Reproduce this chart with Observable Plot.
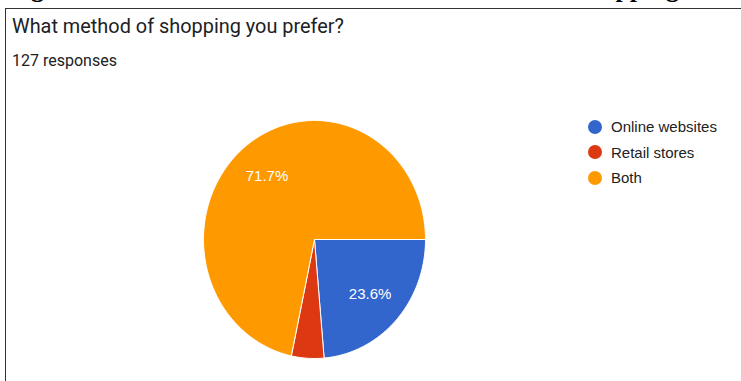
<!DOCTYPE html>
<html><head><meta charset="utf-8">
<script src="https://cdn.jsdelivr.net/npm/d3@7"></script>
<script src="https://cdn.jsdelivr.net/npm/@observablehq/plot@0.6"></script>
<style>
html,body{margin:0;padding:0;background:#fff;}
#page{position:relative;width:741px;height:381px;overflow:hidden;background:#fff;}
#caption{position:absolute;left:8px;top:-24px;font:bold 26px "Liberation Serif","Times New Roman",serif;line-height:26px;white-space:nowrap;color:#000;}
#box{position:absolute;left:5px;top:8px;width:800px;height:420px;border-left:1.5px solid #333;border-top:1.5px solid #333;}
#title{position:absolute;left:12px;top:15px;font:19.9px Roboto,sans-serif;color:#202124;white-space:nowrap;}
#sub{position:absolute;left:12px;top:51px;font:16px Roboto,sans-serif;color:#202124;white-space:nowrap;}
#chart{position:absolute;left:0;top:0;}
#legend{position:absolute;left:588px;top:114px;font:15px "Liberation Sans",Arial,sans-serif;color:#222;}
.li{display:flex;align-items:center;height:25.5px;}
.sw{width:14px;height:14px;border-radius:50%;margin-right:9px;}
</style></head>
<body>
<div id="page">
  <div id="caption"><span id="c1">Fi</span>gure 4.6: Preferred method of <span id="c2">shopping</span></div>
  <div id="box"></div>
  <div id="chart"></div>
  <div id="title">What method of shopping you prefer?</div>
  <div id="sub">127 responses</div>
  <div id="legend"></div>
</div>
<script>
// Data
const categories = ["Online websites", "Retail stores", "Both"];
const counts = [30, 6, 91];
const totalResponses = 127;
const palette = ["#3366cc", "#dc3912", "#ff9900"];

const startDeg = 90; // first slice begins at 3 o'clock, clockwise
const total = d3.sum(counts);
const slices = [];
let acc = startDeg;
categories.forEach((c, i) => {
  const sweep = counts[i] / total * 360;
  slices.push({cat: c, a0: acc, a1: acc + sweep, pct: counts[i] / total * 100});
  acc += sweep;
});
const rad = d => d * Math.PI / 180;
const poly = [];
for (const s of slices) {
  poly.push({cat: s.cat, x: 0, y: 0});
  const n = Math.max(2, Math.ceil(s.a1 - s.a0));
  for (let k = 0; k <= n; k++) {
    const a = rad(s.a0 + (s.a1 - s.a0) * k / n);
    poly.push({cat: s.cat, x: Math.sin(a), y: Math.cos(a)});
  }
  poly.push({cat: s.cat, x: 0, y: 0});
}
const labels = slices.filter(s => s.pct >= 5).map(s => {
  const m = rad((s.a0 + s.a1) / 2);
  return {x: 0.68 * Math.sin(m), y: 0.68 * Math.cos(m), text: s.pct.toFixed(1) + "%"};
});

const plot = Plot.plot({
  width: 741, height: 381,
  marginLeft: 203, marginRight: 316, marginTop: 120, marginBottom: 23,
  x: {domain: [-1, 1], axis: null},
  y: {domain: [-1, 1], axis: null},
  color: {domain: categories, range: palette},
  style: {background: "transparent"},
  marks: [
    Plot.line(poly, {x: "x", y: "y", z: "cat", fill: "cat", stroke: "white", strokeWidth: 1, strokeLinejoin: "round"}),
    Plot.text(labels, {x: "x", y: "y", text: "text", fill: "white", fontSize: 15, fontFamily: "'Liberation Sans', Arial, sans-serif"})
  ]
});
document.getElementById("chart").appendChild(plot);

const leg = document.getElementById("legend");
categories.forEach((c, i) => {
  const row = document.createElement("div");
  row.className = "li";
  row.innerHTML = `<span class="sw" style="background:${palette[i]}"></span><span>${c}</span>`;
  leg.appendChild(row);
});
document.getElementById("sub").textContent = totalResponses + " responses";

// align the clipped caption's descenders with the reference
const cap = document.getElementById("caption");
const pageLeft = document.getElementById("page").getBoundingClientRect().left;
const c1 = document.getElementById("c1").getBoundingClientRect();
cap.style.left = (8 + (31 - (c1.right - pageLeft))) + "px";
const c2 = document.getElementById("c2").getBoundingClientRect();
const extra = 679 - (c2.right - pageLeft);
cap.style.wordSpacing = (extra / 5) + "px";
</script>
</body></html>
